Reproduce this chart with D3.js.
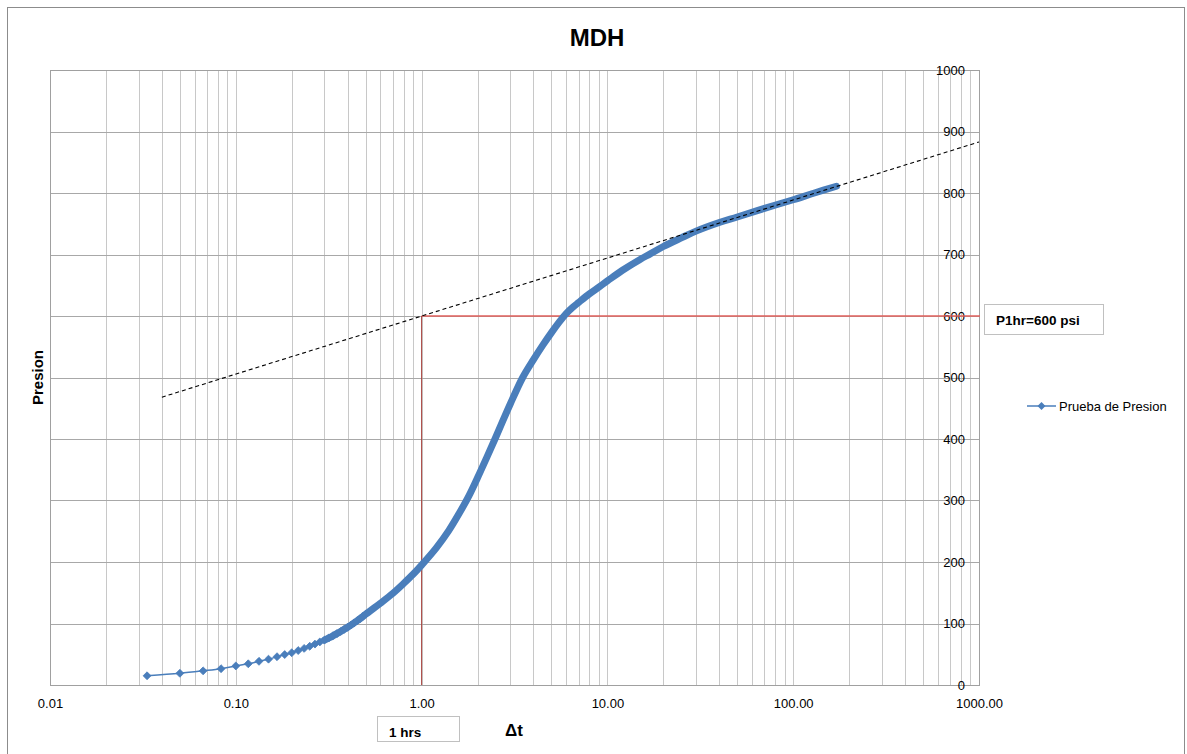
<!DOCTYPE html>
<html>
<head>
<meta charset="utf-8">
<script src="https://cdn.jsdelivr.net/npm/d3@7"></script>
<style>
  html, body { margin: 0; padding: 0; background: #fff; }
  svg { display: block; font-family: "Liberation Sans", Arial, sans-serif; }
</style>
</head>
<body>
<svg id="chart" width="1187" height="754"></svg>
<script>
// ---- data ----
const chartTitle = "MDH";
const seriesName = "Prueba de Presion";
// elapsed time Δt (hours) and pressure (psi)
const timeHrs = [
  0.0333, 0.05, 0.0667, 0.0833, 0.1, 0.1167, 0.1333, 0.15, 0.1667, 0.1833,
  0.2, 0.2167, 0.2333, 0.25, 0.2667, 0.2833, 0.3, 0.3167, 0.3333, 0.35,
  0.3667, 0.3833, 0.4, 0.4167, 0.4333, 0.45, 0.4667, 0.4833, 0.5,
  0.6, 0.7, 0.8, 0.9, 1.0, 1.2, 1.4, 1.6, 1.8, 2.0, 2.25, 2.5, 2.75, 3.0,
  3.5, 4.0, 4.5, 5.0, 5.5, 6.0, 6.5, 7.0, 8.0, 9.0, 10.0, 12.0, 15.0, 17.0,
  20.0, 25.0, 30.0, 40.0, 50.0, 70.0, 100.0, 130.0, 171.0
];
const pressurePsi = [
  15, 19, 23, 26.5, 31, 34.5, 38.5, 42, 46, 49.5,
  52.5, 56, 59.5, 63, 66.5, 70, 73, 76.5, 80, 83.5,
  87, 90.5, 94, 97.5, 101, 104.5, 108, 111.5, 115,
  133, 149, 165, 180, 195, 223, 251, 280, 308, 337, 371, 402, 431, 457,
  500, 529, 553, 573, 590, 604, 614, 622, 636, 647, 657, 674, 692, 701,
  713, 727, 738, 752, 761, 775, 789, 800, 811
];
// semilog straight line (dashed) end points
const trendTime = [0.04, 1000];
const trendPressure = [468, 883];
// P1hr reference
const refTime = 1;
const refPressure = 600;
const refLabel = "P1hr=600 psi";
const refTimeLabel = "1 hrs";
// axes
const xTickValues = [0.01, 0.1, 1, 10, 100, 1000];
const yTickValues = [0, 100, 200, 300, 400, 500, 600, 700, 800, 900, 1000];
const xTitle = "\u0394t";
const yTitle = "Presion";

// ---- drawing ----
const svg = d3.select("#chart");
const L = 50, R = 979, T = 70, B = 685;
const x = d3.scaleLog().domain([0.01, 1000]).range([L, R]);
const y = d3.scaleLinear().domain([0, 1000]).range([B, T]);
const blue = "#4A7EBB";

// outer chart border
svg.append("rect").attr("x", 7.5).attr("y", 7.5).attr("width", 1177).attr("height", 760)
  .attr("fill", "#fff").attr("stroke", "#8c8c8c").attr("stroke-width", 1);

// title
svg.append("text").attr("x", 597).attr("y", 46).attr("text-anchor", "middle")
  .attr("font-size", 24).attr("font-weight", "bold").text(chartTitle);

// vertical grid (log minor lines)
svg.append("g").selectAll("line").data(x.ticks()).join("line")
  .attr("x1", d => Math.round(x(d)) + 0.5).attr("x2", d => Math.round(x(d)) + 0.5)
  .attr("y1", T).attr("y2", B).attr("stroke", "#c8c8c8").attr("stroke-width", 1);

// horizontal grid
svg.append("g").selectAll("line").data(yTickValues).join("line")
  .attr("x1", L).attr("x2", R)
  .attr("y1", d => Math.round(y(d)) + 0.5).attr("y2", d => Math.round(y(d)) + 0.5)
  .attr("stroke", "#a8a8a8").attr("stroke-width", 1);

// plot frame
svg.append("rect").attr("x", L + 0.5).attr("y", T + 0.5).attr("width", R - L).attr("height", B - T)
  .attr("fill", "none").attr("stroke", "#a0a0a0");

// x axis labels
const xAxis = d3.axisBottom(x).tickValues(xTickValues).tickFormat(d3.format(".2f"))
  .tickSize(0).tickPadding(14);
const gx = svg.append("g").attr("transform", `translate(0,${B})`).call(xAxis);
gx.select(".domain").remove();
gx.selectAll("text").attr("font-size", 13).attr("fill", "#000")
  .attr("font-family", "Liberation Sans, Arial, sans-serif");

// y axis labels (placed just inside the right edge)
const yAxis = d3.axisLeft(y).tickValues(yTickValues).tickFormat(d3.format("d"))
  .tickSize(0).tickPadding(14);
const gy = svg.append("g").attr("transform", `translate(${R},0)`).call(yAxis);
gy.select(".domain").remove();
gy.selectAll("text").attr("font-size", 13).attr("fill", "#000")
  .attr("font-family", "Liberation Sans, Arial, sans-serif");

// axis titles
svg.append("text").attr("transform", `translate(43,${(T + B) / 2}) rotate(-90)`)
  .attr("text-anchor", "middle").attr("font-size", 15).attr("font-weight", "bold").text(yTitle);
svg.append("text").attr("x", 514).attr("y", 736).attr("text-anchor", "middle")
  .attr("font-size", 17).attr("font-weight", "bold").text(xTitle);

// reference lines P1hr
svg.append("line").attr("x1", x(refTime)).attr("x2", R + 1)
  .attr("y1", y(refPressure)).attr("y2", y(refPressure))
  .attr("stroke", "#e0605c").attr("stroke-width", 1.5);
svg.append("line").attr("x1", x(refTime)).attr("x2", x(refTime))
  .attr("y1", y(refPressure)).attr("y2", B)
  .attr("stroke", "#a8403c").attr("stroke-width", 1);

// series
const pts = timeHrs.map((t, i) => [t, pressurePsi[i]]);
const lineGen = d3.line().x(d => x(d[0])).y(d => y(d[1])).curve(d3.curveCatmullRom.alpha(0.5));
svg.append("path").attr("d", lineGen(pts)).attr("fill", "none")
  .attr("stroke", blue).attr("stroke-width", 1.5);
// dense part: markers every minute overlap into a solid band
svg.append("path").attr("d", lineGen(pts.filter(d => d[0] >= 0.3)))
  .attr("fill", "none").attr("stroke", blue).attr("stroke-width", 7)
  .attr("stroke-linecap", "round").attr("stroke-linejoin", "round");
const diamond = d3.symbol().type(d3.symbolDiamond2).size(40);
svg.append("g").selectAll("path").data(pts.filter(d => d[0] <= 0.5)).join("path")
  .attr("transform", d => `translate(${x(d[0])},${y(d[1])})`)
  .attr("d", diamond).attr("fill", blue).attr("stroke", blue).attr("stroke-width", 0.8);

// dashed straight line
svg.append("line")
  .attr("x1", x(trendTime[0])).attr("y1", y(trendPressure[0]))
  .attr("x2", x(trendTime[1])).attr("y2", y(trendPressure[1]))
  .attr("stroke", "#000").attr("stroke-width", 1.1).attr("stroke-dasharray", "4,3");

// annotation boxes
svg.append("rect").attr("x", 984.5).attr("y", 304.5).attr("width", 119).attr("height", 30)
  .attr("fill", "#fff").attr("stroke", "#c0c0c0");
svg.append("text").attr("x", 996).attr("y", 325).attr("font-size", 13.5)
  .attr("font-weight", "bold").text(refLabel);
svg.append("rect").attr("x", 377.5).attr("y", 716.5).attr("width", 82).attr("height", 25)
  .attr("fill", "#fff").attr("stroke", "#c0c0c0");
svg.append("text").attr("x", 389).attr("y", 737).attr("font-size", 13.5)
  .attr("font-weight", "bold").text(refTimeLabel);

// legend
const lg = svg.append("g").attr("transform", "translate(1027,406)");
lg.append("line").attr("x1", 0).attr("x2", 29).attr("y1", 0).attr("y2", 0)
  .attr("stroke", blue).attr("stroke-width", 1.5);
lg.append("path").attr("transform", "translate(14.5,0)").attr("d", diamond).attr("fill", blue);
lg.append("text").attr("x", 32).attr("y", 4.5).attr("font-size", 13).text(seriesName);
</script>
</body>
</html>
